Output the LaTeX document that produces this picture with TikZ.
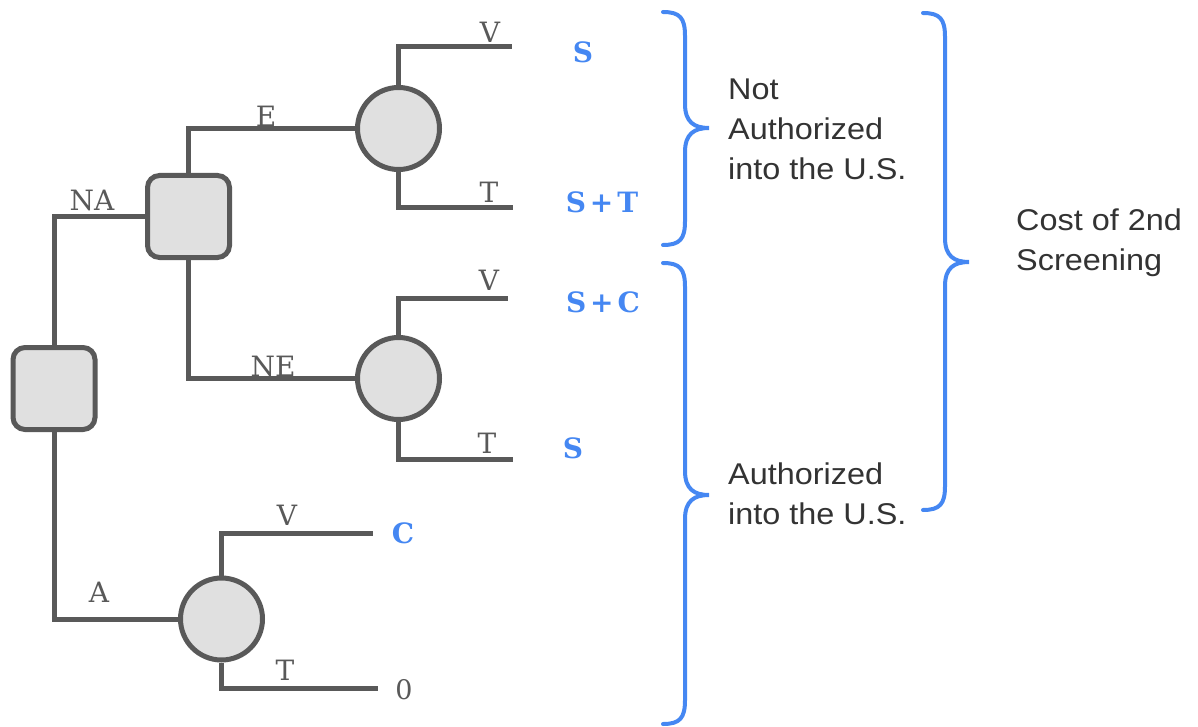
\documentclass[tikz,border=0pt]{standalone}
\usepackage{fontspec}
\setmainfont{DejaVu Serif}
\newfontfamily\labelsans[FakeStretch=1.08]{Liberation Sans}
\definecolor{linegray}{HTML}{595959}
\definecolor{fillgray}{HTML}{E0E0E0}
\definecolor{payblue}{HTML}{4587F2}
\definecolor{txtgray}{HTML}{333333}
\newcommand\payfont{\fontsize{28}{30}\selectfont\bfseries}
\newcommand\tightsp{\hspace{0.14em}}
\tikzset{
  edge/.style={draw=linegray, line width=5pt},
  decisionbox/.style={rectangle, rounded corners=12pt, draw=linegray, fill=fillgray, line width=5pt, minimum size=82pt, inner sep=0pt},
  chance/.style={circle, draw=linegray, fill=fillgray, line width=5pt, minimum size=82pt, inner sep=0pt},
  elabel/.style={anchor=base, inner sep=0pt, text=linegray, font=\fontsize{28}{30}\selectfont},
  payoff/.style={inner sep=0pt, text=payblue, font=\payfont},
  zeropay/.style={inner sep=0pt, text=linegray, font=\fontsize{27}{30}\selectfont},
  bracetext/.style={anchor=west, align=left, inner sep=0pt, text=txtgray, font=\labelsans\fontsize{30}{40}\selectfont},
  bracepath/.style={draw=payblue, line width=4pt, line cap=round}
}
\begin{document}
\begin{tikzpicture}[x=1pt,y=-1pt]
\useasboundingbox (0,0) rectangle (1198,727);
% nodes
\node[decisionbox] (root) at (54,388.5) {};
\node[decisionbox] (na) at (188.5,216.5) {};
\node[chance] (c1) at (398.5,128.5) {};
\node[chance] (c2) at (398.5,378.5) {};
\node[chance] (c3) at (221.5,619) {};
\coordinate (v1) at (512,47);
\coordinate (t1) at (513,208);
\coordinate (v2) at (508,298);
\coordinate (t2) at (513,459);
\coordinate (v3) at (373,533);
\coordinate (t3) at (378,688);
% connectors
\draw[edge] (root.north) |- (na.west);
\draw[edge] (root.south) |- (c3.west);
\draw[edge] (na.north) |- (c1.west);
\draw[edge] (na.south) |- (c2.west);
\draw[edge] (c1.north) |- (v1);
\draw[edge] (c1.south) |- (t1);
\draw[edge] (c2.north) |- (v2);
\draw[edge] (c2.south) |- (t2);
\draw[edge] (c3.north) |- (v3);
\draw[edge] (c3.south) |- (t3);
% edge labels
\node[elabel] (lna) at (92,211) {NA};
\node[elabel] (le) at (266,127) {E};
\node[elabel] (lv1) at (490,43) {V};
\node[elabel] (lt1) at (489,203) {T};
\node[elabel] (lne) at (273,376) {NE};
\node[elabel] (lv2) at (489,290) {V};
\node[elabel] (lt2) at (487,453) {T};
\node[elabel] (la) at (99,602) {A};
\node[elabel] (lv3) at (287,525) {V};
\node[elabel] (lt3) at (285,680) {T};
% payoffs
\node[payoff] (p1) at (583,52) {S};
\node[payoff] (p2) at (602,202) {S\tightsp+\tightsp T};
\node[payoff] (p3) at (603,302) {S\tightsp+\tightsp C};
\node[payoff] (p4) at (573,448) {S};
\node[payoff] (p5) at (403,533) {C};
\node[zeropay] (p6) at (404,690) {0};
% braces
\draw[bracepath] (663,12) .. controls (680,12) and (685,18) .. (685,36) -- (685,104) .. controls (685,122) and (694,128) .. (709,128) .. controls (694,128) and (685,134) .. (685,152) -- (685,221) .. controls (685,239) and (680,245) .. (663,245);
\draw[bracepath] (663,263) .. controls (680,263) and (685,269) .. (685,287) -- (685,471) .. controls (685,489) and (694,495) .. (709,495) .. controls (694,495) and (685,501) .. (685,519) -- (685,700) .. controls (685,718) and (680,724) .. (663,724);
\draw[bracepath] (923,13) .. controls (940,13) and (945,19) .. (945,37) -- (945,238) .. controls (945,256) and (954,262) .. (969,262) .. controls (954,262) and (945,268) .. (945,286) -- (945,486) .. controls (945,504) and (940,510) .. (923,510);
% brace texts
\node[bracetext] (tna) at (728,129) {Not\\Authorized\\into the U.S.};
\node[bracetext] (ta) at (728,494) {Authorized\\into the U.S.};
\node[bracetext] (tcost) at (1016,243) {Cost of 2nd\\Screening};
\end{tikzpicture}
\end{document}
